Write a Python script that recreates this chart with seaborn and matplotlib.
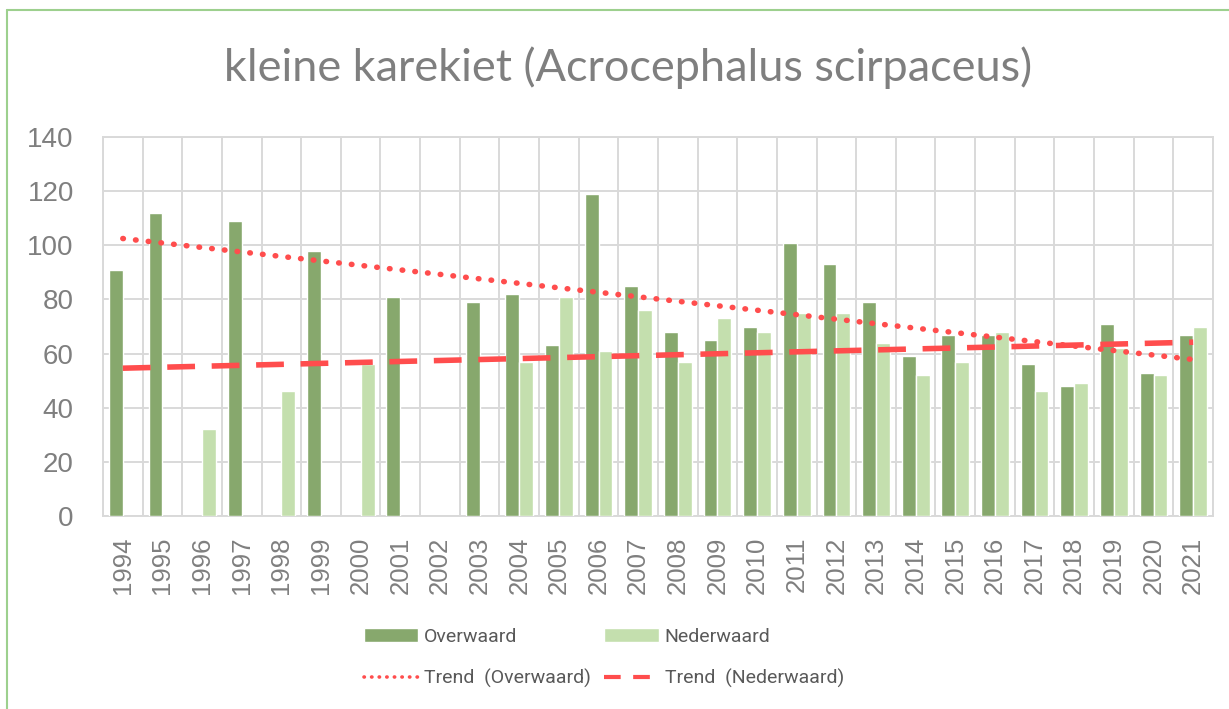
import numpy as np
import pandas as pd
import matplotlib
matplotlib.use("Agg")
import matplotlib.pyplot as plt
import seaborn as sns
from matplotlib.lines import Line2D
from matplotlib.patches import Patch

# Gegevens
jaren = [str(j) for j in range(1994, 2022)]
overwaard = [91, 112, np.nan, 109, np.nan, 98, np.nan, 81, np.nan, 79,
             82, 63, 119, 85, 68, 65, 70, 101, 93, 79,
             59, 67, 67, 56, 48, 71, 53, 67]
nederwaard = [np.nan, np.nan, 32, np.nan, 46, np.nan, 56, np.nan, np.nan, np.nan,
              57, 81, 61, 76, 57, 73, 68, 75, 75, 64,
              52, 57, 68, 46, 49, 62, 52, 70]
trend_over = [102.5, 57.8]   # begin (1994) en eind (2021)
trend_neder = [54.6, 64.2]

df = pd.DataFrame({
    'Jaar': jaren * 2,
    'Aantal': overwaard + nederwaard,
    'Gebied': ['Overwaard'] * len(jaren) + ['Nederwaard'] * len(jaren),
})

kleuren = {'Overwaard': '#87A86D', 'Nederwaard': '#C4DFAE'}
rood = '#FF4D4D'
grijs = '#7F7F7F'

sns.set_style("white")
plt.rcParams['font.family'] = ['Liberation Sans', 'DejaVu Sans']

fig = plt.figure(figsize=(12.29, 7.09), dpi=100)
ax = fig.add_axes([103 / 1229, 1 - 516 / 709, 1110 / 1229, 379 / 709])

sns.barplot(data=df, x='Jaar', y='Aantal', hue='Gebied', palette=kleuren,
            hue_order=['Overwaard', 'Nederwaard'], width=0.7, saturation=1,
            legend=False, ax=ax, zorder=3)

# Trendlijnen
stip = (0, (0.1, 2.2))
streep = (0, (5, 3))
x_trend = [0, len(jaren) - 1]
ax.plot(x_trend, trend_over, color=rood, linestyle=stip,
        linewidth=4, dash_capstyle='round', zorder=4)
ax.plot(x_trend, trend_neder, color=rood, linestyle=streep,
        linewidth=4, zorder=4)

# Assen en raster
ax.set_xlim(-0.5, len(jaren) - 0.5)
ax.set_ylim(0, 140)
ax.set_yticks(range(0, 141, 20))
ax.set_xticks(np.arange(len(jaren) + 1) - 0.5, minor=True)
ax.grid(which='minor', axis='x', color='#D9D9D9', linewidth=1.4, zorder=0)
ax.grid(which='major', axis='y', color='#D9D9D9', linewidth=1.4, zorder=0)
ax.set_axisbelow(True)
for s in ax.spines.values():
    s.set_color('#D9D9D9')
    s.set_linewidth(1.4)
ax.tick_params(axis='both', which='both', length=0)
ax.tick_params(axis='y', labelsize=20, labelcolor=grijs, pad=21)
ax.tick_params(axis='x', labelsize=18.5, labelcolor=grijs, pad=15, rotation=90)
ax.set_xlabel('')
ax.set_ylabel('')

# Titel
fig.text(628 / 1229, 1 - 68 / 709, 'kleine karekiet (Acrocephalus scirpaceus)',
         ha='center', va='center', fontsize=32.5, color=grijs,
         family=['Lato', 'DejaVu Sans'])

# Legenda
handles = [
    Patch(facecolor=kleuren['Overwaard']),
    Line2D([], [], color=rood, linestyle=(0, (0.1, 2.0)), linewidth=2.6,
           dash_capstyle='round'),
    Patch(facecolor=kleuren['Nederwaard']),
    Line2D([], [], color=rood, linestyle=(0, (4, 3)), linewidth=3),
]
labels = ['Overwaard', 'Trend  (Overwaard)', 'Nederwaard', 'Trend  (Nederwaard)']
leg = fig.legend(handles, labels, ncol=2, loc='center left',
                 bbox_to_anchor=(346 / 1229, 1 - 658 / 709), frameon=False,
                 handlelength=2.8, handleheight=0.7, handletextpad=0.3,
                 columnspacing=0.7, labelspacing=1.2,
                 prop={'family': ['Roboto', 'DejaVu Sans'], 'size': 14})
for t in leg.get_texts():
    t.set_color('#595959')

# Groene rand van de kaart
fig.add_artist(Line2D([7 / 1229, 1], [1 - 10 / 709, 1 - 10 / 709],
                      color='#9DD08E', linewidth=1.5, transform=fig.transFigure))
fig.add_artist(Line2D([7 / 1229, 7 / 1229], [0, 1 - 10 / 709],
                      color='#9DD08E', linewidth=1.5, transform=fig.transFigure))

fig.savefig('out.png', dpi=100)
